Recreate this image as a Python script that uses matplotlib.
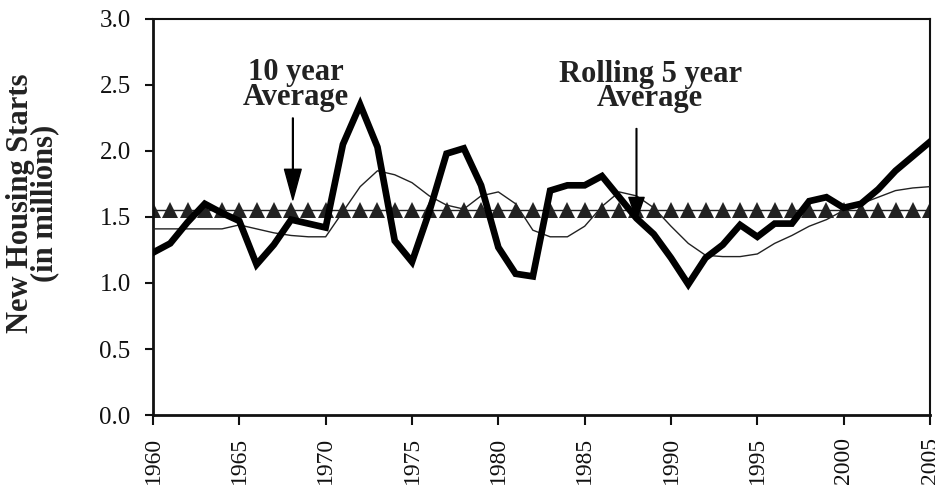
import matplotlib
matplotlib.use("Agg")
import matplotlib.pyplot as plt

years = list(range(1960, 2006))
starts = [1.23, 1.30, 1.46, 1.60, 1.53, 1.47, 1.14, 1.29, 1.48, 1.45,
          1.42, 2.05, 2.35, 2.03, 1.32, 1.16, 1.54, 1.98, 2.02, 1.74,
          1.27, 1.07, 1.05, 1.70, 1.74, 1.74, 1.81, 1.65, 1.49, 1.37,
          1.19, 0.99, 1.19, 1.29, 1.44, 1.35, 1.45, 1.45, 1.62, 1.65,
          1.57, 1.60, 1.71, 1.85, 1.96, 2.07]
rolling5 = [1.41, 1.41, 1.41, 1.41, 1.41, 1.44, 1.41, 1.38, 1.36, 1.35,
            1.35, 1.54, 1.73, 1.85, 1.82, 1.76, 1.66, 1.59, 1.56, 1.66,
            1.69, 1.60, 1.40, 1.35, 1.35, 1.43, 1.58, 1.69, 1.66, 1.57,
            1.43, 1.30, 1.21, 1.20, 1.20, 1.22, 1.30, 1.36, 1.43, 1.48,
            1.55, 1.60, 1.65, 1.70, 1.72, 1.73]
ten_year_avg = [1.55] * len(years)

yticks = [0.0, 0.5, 1.0, 1.5, 2.0, 2.5, 3.0]
xticks = list(range(1960, 2006, 5))

plt.rcParams['font.family'] = ['Liberation Serif', 'DejaVu Serif']

fig = plt.figure(figsize=(9.35, 4.92), dpi=100)
ax = fig.add_axes([0.1636, 0.1565, 0.8311, 0.8049])

ax.plot(years, ten_year_avg, color='#222222', lw=1.0, marker='^', markersize=11.5,
        markeredgewidth=0, zorder=2)
ax.plot(years, rolling5, color='#222222', lw=1.0, zorder=3)
ax.plot(years, starts, color='black', lw=4.8, solid_joinstyle='miter', zorder=4)

ax.set_xlim(1960, 2005)
ax.set_ylim(0, 3.0)
ax.set_yticks(yticks)
ax.set_yticklabels([f"{v:.1f}" for v in yticks])
ax.set_xticks(xticks)
ax.set_xticklabels([str(x) for x in xticks], rotation=90)

for s in ax.spines.values():
    s.set_linewidth(2.0)
    s.set_color('#111111')
ax.spines['right'].set_linewidth(1.5)
ax.spines['top'].set_linewidth(1.5)

ax.tick_params(axis='y', direction='out', length=6, width=1.5, labelsize=18, pad=10,
               colors='#111111')
ax.tick_params(axis='x', direction='out', length=7, width=1.5, labelsize=17, pad=9,
               colors='#111111')

ax.set_ylabel("New Housing Starts\n(in millions)", fontsize=22, fontweight='bold',
              linespacing=0.8, color='#222222')
ax.yaxis.set_label_coords(-0.12, 0.535)

ax.annotate("", xy=(1968.1, 1.63), xytext=(1968.1, 2.25),
            arrowprops=dict(facecolor='black', edgecolor='black', width=0.5,
                            headwidth=12, headlength=22, shrink=0))
ax.text(1968.3, 2.5, "10 year\nAverage", ha='center', va='center', fontsize=22,
        fontweight='bold', linespacing=0.8, color='#222222')

ax.annotate("", xy=(1988.0, 1.48), xytext=(1988.0, 2.17),
            arrowprops=dict(facecolor='black', edgecolor='black', width=0.5,
                            headwidth=11, headlength=16, shrink=0))
ax.text(1988.8, 2.49, "Rolling 5 year\nAverage", ha='center', va='center', fontsize=22,
        fontweight='bold', linespacing=0.8, color='#222222')

fig.savefig("out.png", dpi=100)
